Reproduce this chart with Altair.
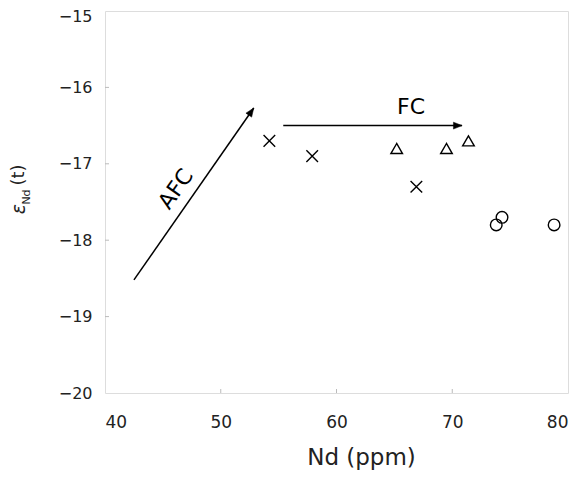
import math
import altair as alt
import pandas as pd

# ---- data ----
cross_nd = [54.2, 57.9, 66.9]
cross_eps = [-16.7, -16.9, -17.3]
tri_nd = [65.2, 69.5, 71.4]
tri_eps = [-16.8, -16.8, -16.7]
circ_nd = [73.8, 74.3, 78.8]
circ_eps = [-17.8, -17.7, -17.8]

afc_nd = [42.5, 52.85]
afc_eps = [-18.52, -16.27]
fc_nd = [55.4, 70.85]
fc_eps = [-16.5, -16.5]

x_ticks = [50, 60, 70]
y_ticks = [-16, -17, -18, -19]

W, H = 463, 382
XD, YD = [40, 80], [-20, -15]
FONT = "DejaVu Sans"
INK = "#222222"

pts = pd.DataFrame({
    "nd": cross_nd + tri_nd + circ_nd,
    "eps": cross_eps + tri_eps + circ_eps,
    "grp": ["x"] * 3 + ["tri"] * 3 + ["circ"] * 3,
})

xs = alt.Scale(domain=XD, nice=False, zero=False)
ys = alt.Scale(domain=YD, nice=False, zero=False)
X = lambda f="nd": alt.X(f"{f}:Q", scale=xs)
Y = lambda f="eps": alt.Y(f"{f}:Q", scale=ys)

XPATH = "M-1,-1L1,1M1,-1L-1,1"

base_axes = alt.Chart(pts).mark_point(opacity=0).encode(
    x=alt.X("nd:Q", scale=xs, title="Nd (ppm)",
            axis=alt.Axis(values=[40, 50, 60, 70, 80], format="d", ticks=False, domain=False, grid=False,
                          labelFont=FONT, labelFontSize=17, labelColor=INK, labelPadding=21,
                          titleFont=FONT, titleFontSize=23, titleFontWeight="normal",
                          titleColor=INK, titlePadding=16, titleX=256)),
    y=alt.Y("eps:Q", scale=ys, title=None,
            axis=alt.Axis(values=[-15, -16, -17, -18, -19, -20], format="d", ticks=False, domain=False,
                          grid=False, labelFont=FONT, labelFontSize=16, labelColor=INK,
                          labelPadding=13,
                          labelOffset=alt.condition("datum.value == -15", alt.value(5), alt.value(0)),
                          labelExpr="replace(datum.label, '-', '\u2212')")),
)

points = alt.Chart(pts).mark_point(filled=False, stroke="black", strokeWidth=1.4, size=135, opacity=1).encode(
    x=X(), y=Y(),
    shape=alt.Shape("grp:N", scale=alt.Scale(domain=["x", "tri", "circ"],
                                              range=[XPATH, "triangle-up", "circle"]), legend=None),
)

# inward ticks
xt = alt.Chart(pd.DataFrame({"v": x_ticks})).mark_rule(color="#bbbbbb", strokeWidth=1).encode(
    x=alt.X("v:Q", scale=xs), y=alt.value(H), y2=alt.value(H - 4))
yt = alt.Chart(pd.DataFrame({"v": y_ticks})).mark_rule(color="#bbbbbb", strokeWidth=1).encode(
    y=alt.Y("v:Q", scale=ys), x=alt.value(0), x2=alt.value(4))

def arrow(nds, epss):
    df = pd.DataFrame({"nd": nds, "eps": epss, "o": [0, 1]})
    line = alt.Chart(df).mark_line(color="black", strokeWidth=1.5).encode(
        x=X(), y=Y(), order="o:O")
    dx = (nds[1] - nds[0]) * W / (XD[1] - XD[0])
    dy = -(epss[1] - epss[0]) * H / (YD[1] - YD[0])
    ang = math.degrees(math.atan2(dx, -dy)) % 360
    head_df = df.iloc[[1]]
    head = alt.Chart(head_df).mark_point(
        shape="M0,0L-0.4,1L0.4,1Z", filled=True, fill="black", stroke="black", strokeWidth=0.5,
        size=300, angle=ang, opacity=1).encode(x=X(), y=Y())
    return line + head

labels = pd.DataFrame({"nd": [46.13, 66.44], "eps": [-17.33, -16.26], "t": ["AFC", "FC"]})
afc_text = alt.Chart(labels.iloc[[0]]).mark_text(font=FONT, fontSize=22, color="black", angle=305).encode(
    x=X(), y=Y(), text="t:N")
fc_text = alt.Chart(labels.iloc[[1]]).mark_text(font=FONT, fontSize=22, color="black").encode(
    x=X(), y=Y(), text="t:N")

# y title pieces: ε_Nd (t)
eps_t = alt.Chart(pd.DataFrame({"t": ["\u03b5"]})).mark_text(
    font=FONT, fontSize=19, fontStyle="italic", color=INK, angle=270).encode(
    text="t:N", x=alt.value(-86), y=alt.value(198))
nd_t = alt.Chart(pd.DataFrame({"t": ["Nd"]})).mark_text(
    font=FONT, fontSize=11, color=INK, angle=270).encode(
    text="t:N", x=alt.value(-78), y=alt.value(186))
tt = alt.Chart(pd.DataFrame({"t": ["(t)"]})).mark_text(
    font=FONT, fontSize=18, color=INK, angle=270).encode(
    text="t:N", x=alt.value(-86), y=alt.value(164))

chart = alt.layer(
    base_axes, xt, yt, arrow(afc_nd, afc_eps), arrow(fc_nd, fc_eps),
    points, afc_text, fc_text, eps_t, nd_t, tt,
).properties(
    width=W, height=H,
    autosize=alt.AutoSizeParams(type="none"),
    padding={"left": 97, "top": 3, "right": 8, "bottom": 80},
).configure_view(stroke="#333333", strokeWidth=2).configure(background="white")

chart.save("out.html", embed_options={"renderer": "svg", "actions": False})
